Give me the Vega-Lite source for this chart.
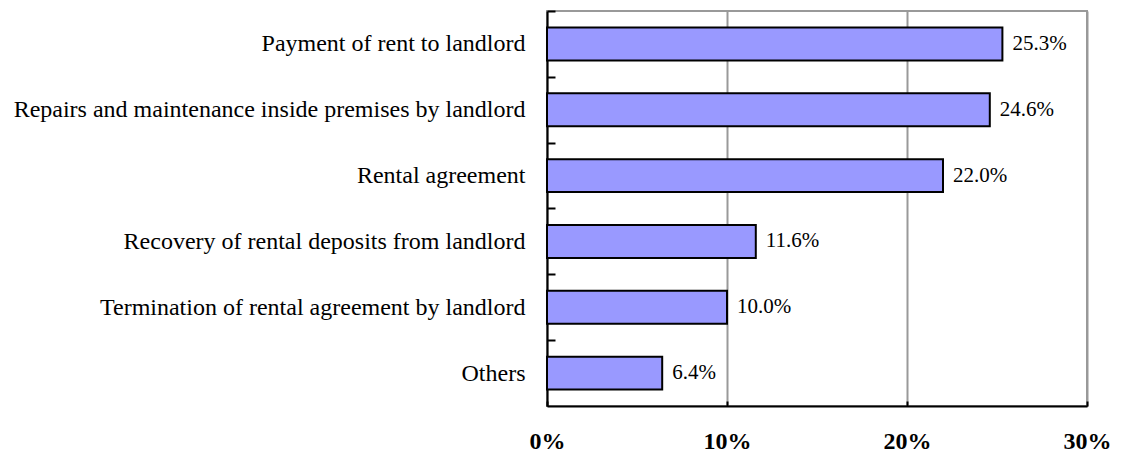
{
  "$schema": "https://vega.github.io/schema/vega-lite/v6.json",
  "autosize": "none",
  "width": 540,
  "height": 395,
  "padding": {"left": 547, "top": 11, "right": 35, "bottom": 50},
  "background": "white",
  "config": {
    "view": {"stroke": "#999999", "strokeWidth": 2},
    "font": "Liberation Serif"
  },
  "data": {
    "values": [
      {"category": "Payment of rent to landlord", "value": 25.3, "label": "25.3%"},
      {"category": "Repairs and maintenance inside premises by landlord", "value": 24.6, "label": "24.6%"},
      {"category": "Rental agreement", "value": 22.0, "label": "22.0%"},
      {"category": "Recovery of rental deposits from landlord", "value": 11.6, "label": "11.6%"},
      {"category": "Termination of rental agreement by landlord", "value": 10.0, "label": "10.0%"},
      {"category": "Others", "value": 6.4, "label": "6.4%"}
    ]
  },
  "encoding": {
    "y": {
      "field": "category",
      "type": "nominal",
      "sort": null,
      "scale": {"paddingInner": 0.5, "paddingOuter": 0.25},
      "axis": {
        "title": null,
        "domainColor": "black",
        "domainWidth": 2,
        "ticks": true,
        "tickColor": "black",
        "tickWidth": 2,
        "tickSize": -8,
        "bandPosition": 0,
        "tickOffset": -16.46,
        "labelOffset": 16.46,
        "labelPadding": 30,
        "labelFont": "Liberation Serif",
        "labelFontSize": 24,
        "labelColor": "black",
        "labelLimit": 700,
        "grid": false
      }
    }
  },
  "layer": [
    {
      "mark": {"type": "bar", "fill": "#9999FF", "stroke": "black", "strokeWidth": 2},
      "encoding": {
        "x": {
          "field": "value",
          "type": "quantitative",
          "scale": {"domain": [0, 30], "nice": false},
          "axis": {
            "title": null,
            "values": [0, 10, 20, 30],
            "labelExpr": "datum.value + '%'",
            "labelFlush": false,
            "labelFont": "Liberation Serif",
            "labelFontSize": 24,
            "labelFontWeight": "bold",
            "labelColor": "black",
            "labelPadding": 28,
            "domainColor": "black",
            "domainWidth": 2,
            "tickColor": "black",
            "tickWidth": 2,
            "tickSize": -5,
            "grid": true,
            "gridColor": "#999999",
            "gridWidth": 2
          }
        }
      }
    },
    {
      "mark": {"type": "text", "align": "left", "dx": 10, "fontSize": 21, "font": "Liberation Serif", "color": "black"},
      "encoding": {
        "x": {"field": "value", "type": "quantitative"},
        "text": {"field": "label"}
      }
    }
  ]
}
